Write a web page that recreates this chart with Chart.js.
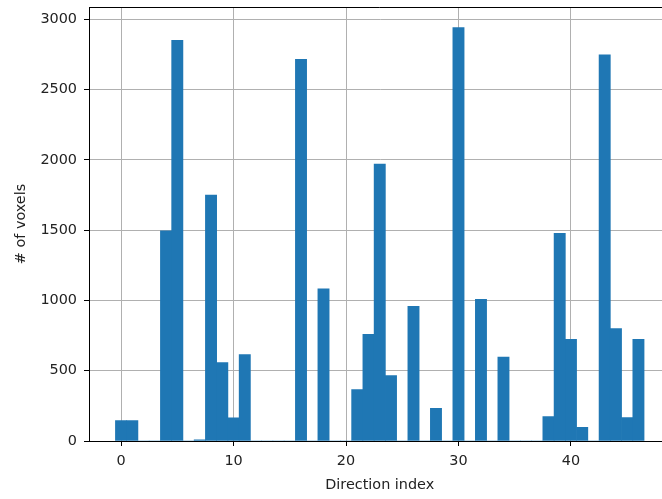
<!DOCTYPE html>
<html>
<head>
<meta charset="utf-8">
<script src="https://cdn.jsdelivr.net/npm/chart.js@4/dist/chart.umd.min.js"></script>
<style>
  html, body { margin: 0; padding: 0; background: #fff; overflow: hidden; }
  #wrap { position: relative; width: 672px; height: 499px; }
</style>
</head>
<body>
<div id="wrap"><canvas id="chart"></canvas></div>
<script>
// direction indices 0..46 and the voxel count for each
const directions = Array.from({ length: 47 }, (_, i) => i);
const voxelCounts = [
  145, 145, 0, 0, 1495, 2850, 0, 8, 1750, 557,
  164, 614, 0, 0, 0, 0, 2714, 0, 1083, 0,
  0, 365, 759, 1970, 465, 0, 958, 0, 232, 0,
  2940, 0, 1008, 0, 597, 0, 0, 0, 173, 1477,
  723, 97, 0, 2747, 799, 166, 723
];
const xTicks = [0, 10, 20, 30, 40];
const yTicks = [0, 500, 1000, 1500, 2000, 2500, 3000];

const tickFont = { family: 'DejaVu Sans', size: 14.4 };

// top spine (the right one falls outside the picture)
const frame = {
  id: 'frame',
  afterDraw(chart) {
    const { ctx, chartArea: a } = chart;
    ctx.save();
    ctx.strokeStyle = '#000';
    ctx.lineWidth = 1;
    ctx.beginPath();
    ctx.moveTo(a.left, a.top + 0.5);
    ctx.lineTo(a.right, a.top + 0.5);
    ctx.stroke();
    ctx.restore();
  }
};

new Chart(document.getElementById('chart'), {
  type: 'bar',
  data: {
    datasets: [{
      data: directions.map((d, i) => ({ x: d, y: voxelCounts[i] })),
      backgroundColor: '#1f77b4',
      borderWidth: 0,
      barPercentage: 1,
      categoryPercentage: 1
    }]
  },
  options: {
    responsive: true,
    maintainAspectRatio: false,
    animation: false,
    layout: { padding: { top: 7, right: 1.5, left: 0, bottom: 0 } },
    plugins: { legend: { display: false }, tooltip: { enabled: false } },
    scales: {
      x: {
        type: 'linear',
        offset: false,
        min: -2.85,
        max: 48.85,
        z: 1,
        afterFit: (s) => { s.height = 58; s.paddingLeft = 0; s.paddingRight = 0; },
        afterBuildTicks: (s) => { s.ticks = xTicks.map(v => ({ value: v })); },
        grid: { offset: false, color: '#b0b0b0', lineWidth: 1, tickColor: '#000', tickLength: 5 },
        border: { color: '#000', width: 1 },
        ticks: { font: tickFont, color: '#222', padding: 7, maxRotation: 0, callback: v => String(v) },
        title: {
          display: true, text: 'Direction index',
          font: tickFont, color: '#222',
          padding: { top: 0, bottom: 5 }
        }
      },
      y: {
        min: 0,
        max: 3087,
        z: 1,
        afterFit: (s) => { s.width = 89; s.paddingTop = 0; s.paddingBottom = 0; },
        afterBuildTicks: (s) => { s.ticks = yTicks.map(v => ({ value: v })); },
        grid: { color: '#b0b0b0', lineWidth: 1, tickColor: '#000', tickLength: 5 },
        border: { color: '#000', width: 1 },
        ticks: { font: tickFont, color: '#222', padding: 7, callback: v => String(v) },
        title: {
          display: true, text: '# of voxels',
          font: tickFont, color: '#222',
          padding: { top: 13, bottom: 0 }
        }
      }
    }
  },
  plugins: [frame]
});
</script>
</body>
</html>
